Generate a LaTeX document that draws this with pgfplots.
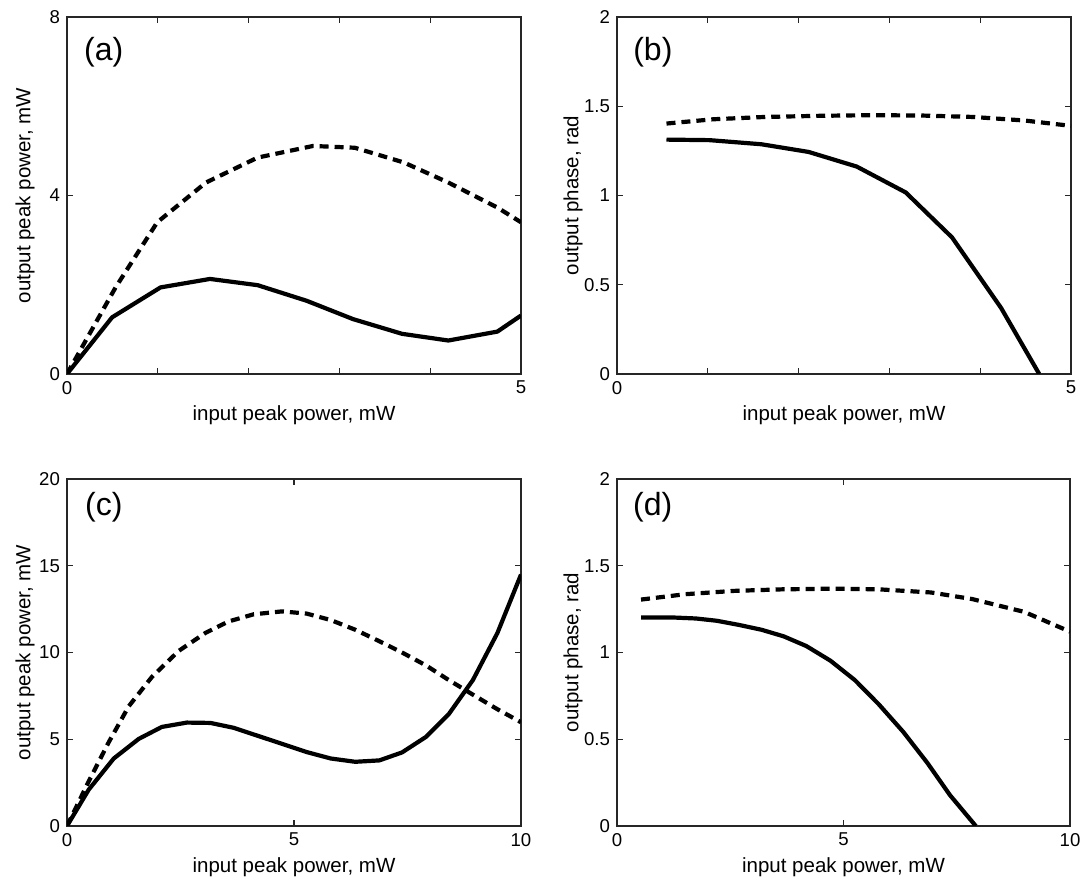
\documentclass[border=0pt]{standalone}
\usepackage{fontspec}
\setmainfont{Liberation Sans}
\usepackage{pgfplots}
\pgfplotsset{compat=1.18}
\tikzset{
  solidc/.style={black, line width=2.1pt, line join=round},
  dashc/.style={black, line width=2.1pt, dash pattern=on 4.5pt off 3pt},
  plab/.style={font=\fontsize{16}{18}\selectfont},
}
\pgfplotsset{
  panel/.style={
    scale only axis, anchor=south west,
    axis line style={line width=0.7pt, black!85},
    every tick/.style={line width=0.6pt, black!85},
    major tick length=3pt,
    tick align=inside,
    tick label style={font=\fontsize{9.3}{10}\selectfont},
    label style={font=\fontsize{10.25}{12}\selectfont},
    /pgf/number format/assume math mode=true,
    xlabel={input peak power, mW},
  },
}
\begin{document}
\begin{tikzpicture}[x=1pt,y=1pt]
\useasboundingbox (0,0) rectangle (541,440.5);
% (a)
\begin{axis}[panel, at={(33.5pt,253.5pt)}, width=227pt, height=178.5pt,
  xmin=0, xmax=5, ymin=0, ymax=8,
  xtick={0,1,2,3,4,5}, xticklabels={0,,,,,5},
  ytick={0,4,8},
  ylabel={output peak power, mW},
  xlabel style={at={(axis description cs:0.5,-0.115)}, anchor=center},
  ylabel style={at={(axis description cs:-0.0925,0.5)}, anchor=center},
]
\addplot[dashc] coordinates {(0,0) (0.535,1.94) (0.994,3.40) (1.53,4.29) (2.10,4.85) (2.71,5.11) (3.17,5.07) (3.71,4.74) (4.20,4.29) (4.74,3.73) (5,3.40)};
\addplot[solidc] coordinates {(0,0) (0.497,1.27) (1.03,1.94) (1.575,2.13) (2.10,1.99) (2.64,1.64) (3.15,1.23) (3.69,0.90) (4.20,0.75) (4.74,0.95) (5,1.31)};
\node[plab] at (axis description cs:0.081,0.90) {(a)};
\end{axis}
% (b)
\begin{axis}[panel, at={(308.5pt,253.5pt)}, width=227pt, height=178.5pt,
  xmin=0, xmax=5, ymin=0, ymax=2,
  xtick={0,1,2,3,4,5}, xticklabels={0,,,,,5},
  ytick={0,0.5,1,1.5,2},
  ylabel={output phase, rad},
  xlabel style={at={(axis description cs:0.5,-0.115)}, anchor=center},
  ylabel style={at={(axis description cs:-0.097,0.5)}, anchor=center},
]
\addplot[dashc] coordinates {(0.545,1.403) (1.06,1.427) (1.63,1.44) (2.20,1.446) (2.78,1.45) (3.35,1.448) (3.92,1.44) (4.49,1.42) (5,1.39)};
\addplot[solidc] coordinates {(0.545,1.313) (1.02,1.31) (1.59,1.287) (2.11,1.244) (2.64,1.162) (3.18,1.017) (3.69,0.765) (4.23,0.37) (4.65,0)};
\node[plab] at (axis description cs:0.079,0.90) {(b)};
\end{axis}
% (c)
\begin{axis}[panel, at={(33.5pt,27.5pt)}, width=227pt, height=173.5pt,
  xmin=0, xmax=10, ymin=0, ymax=20,
  xtick={0,5,10}, ytick={0,5,10,15,20},
  ylabel={output peak power, mW},
  xlabel style={at={(axis description cs:0.5,-0.118)}, anchor=center},
  ylabel style={at={(axis description cs:-0.0925,0.5)}, anchor=center},
]
\addplot[dashc] coordinates {(0,0) (0.48,2.58) (0.92,4.83) (1.36,6.90) (1.87,8.59) (2.46,10.09) (3.05,11.13) (3.56,11.79) (4.11,12.20) (4.74,12.37) (5.28,12.24) (5.81,11.87) (6.35,11.31) (6.88,10.65) (7.38,10.0) (7.91,9.25) (8.41,8.41) (8.94,7.57) (9.48,6.73) (10,5.98)};
\addplot[solidc] coordinates {(0,0) (0.48,2.10) (1.03,3.89) (1.58,5.02) (2.09,5.71) (2.64,5.96) (3.16,5.94) (3.67,5.66) (4.20,5.20) (4.74,4.73) (5.28,4.26) (5.81,3.89) (6.35,3.70) (6.88,3.78) (7.38,4.24) (7.91,5.14) (8.41,6.45) (8.94,8.41) (9.48,11.12) (10,14.49)};
\node[plab] at (axis description cs:0.081,0.92) {(c)};
\end{axis}
% (d)
\begin{axis}[panel, at={(308.5pt,27.5pt)}, width=226.5pt, height=173.5pt,
  xmin=0, xmax=10, ymin=0, ymax=2,
  xtick={0,5,10}, ytick={0,0.5,1,1.5,2},
  ylabel={output phase, rad},
  xlabel style={at={(axis description cs:0.5,-0.118)}, anchor=center},
  ylabel style={at={(axis description cs:-0.097,0.5)}, anchor=center},
]
\addplot[dashc] coordinates {(0.53,1.305) (1.51,1.336) (2.58,1.355) (3.65,1.364) (4.79,1.368) (5.78,1.364) (6.93,1.346) (7.84,1.308) (8.99,1.234) (10,1.12)};
\addplot[solidc] coordinates {(0.53,1.202) (1.21,1.202) (1.74,1.196) (2.20,1.183) (2.69,1.159) (3.19,1.131) (3.68,1.093) (4.18,1.037) (4.71,0.953) (5.25,0.841) (5.78,0.701) (6.32,0.542) (6.85,0.364) (7.35,0.178) (7.92,0)};
\node[plab] at (axis description cs:0.079,0.92) {(d)};
\end{axis}
\end{tikzpicture}
\end{document}
